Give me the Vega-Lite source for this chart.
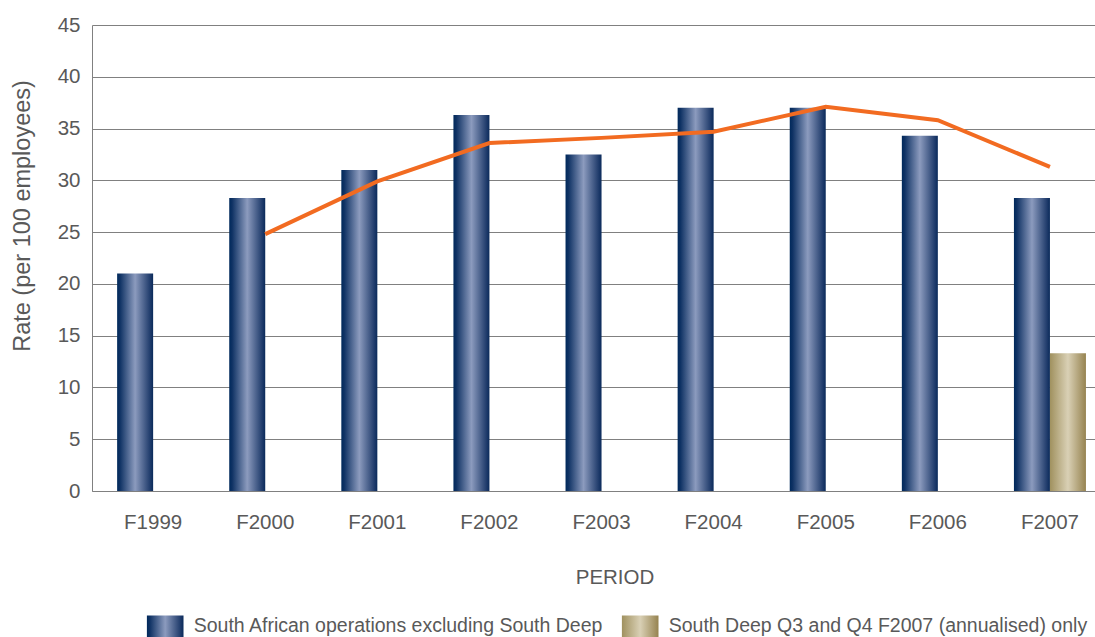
{
  "$schema": "https://vega.github.io/schema/vega-lite/v6.json",
  "width": 1003,
  "height": 466,
  "autosize": "none",
  "padding": {"left": 92, "top": 25, "right": 0, "bottom": 146},
  "background": "white",
  "config": {"view": {"stroke": null}, "font": "Liberation Sans"},
  "datasets": {
    "bars": [
      {"period": "F1999", "series": "South African operations excluding South Deep", "rate": 21.0},
      {"period": "F2000", "series": "South African operations excluding South Deep", "rate": 28.3},
      {"period": "F2001", "series": "South African operations excluding South Deep", "rate": 31.0},
      {"period": "F2002", "series": "South African operations excluding South Deep", "rate": 36.3},
      {"period": "F2003", "series": "South African operations excluding South Deep", "rate": 32.5},
      {"period": "F2004", "series": "South African operations excluding South Deep", "rate": 37.0},
      {"period": "F2005", "series": "South African operations excluding South Deep", "rate": 37.0},
      {"period": "F2006", "series": "South African operations excluding South Deep", "rate": 34.3},
      {"period": "F2007", "series": "South African operations excluding South Deep", "rate": 28.3},
      {"period": "F2007", "series": "South Deep Q3 and Q4 F2007 (annualised) only", "rate": 13.3}
    ],
    "trend": [
      {"period": "F2000", "rate": 24.8},
      {"period": "F2001", "rate": 29.9},
      {"period": "F2002", "rate": 33.6},
      {"period": "F2003", "rate": 34.1},
      {"period": "F2004", "rate": 34.7},
      {"period": "F2005", "rate": 37.1},
      {"period": "F2006", "rate": 35.8},
      {"period": "F2007", "rate": 31.3}
    ]
  },
  "encoding": {
    "x": {
      "field": "period",
      "type": "nominal",
      "scale": {
        "domain": ["F1999", "F2000", "F2001", "F2002", "F2003", "F2004", "F2005", "F2006", "F2007"],
        "paddingInner": 0.3577,
        "paddingOuter": 0.1525,
        "align": 0.735
      },
      "axis": {
        "title": "PERIOD",
        "labelAngle": 0,
        "ticks": false,
        "tickSize": 0,
        "grid": false,
        "domainColor": "#808080",
        "domainWidth": 1,
        "labelFontSize": 20.5,
        "labelColor": "#595959",
        "labelPadding": 21,
        "labelBaseline": "top",
        "labelDx": -6,
        "titleFontSize": 20.5,
        "titleFontWeight": "normal",
        "titleColor": "#595959",
        "titleX": 522.5,
        "titleY": 86.5,
        "titleBaseline": "middle",
        "titleAlign": "center"
      }
    },
    "y": {
      "field": "rate",
      "type": "quantitative",
      "scale": {"domain": [0, 45], "nice": false},
      "axis": {
        "title": "Rate (per 100 employees)",
        "values": [0, 5, 10, 15, 20, 25, 30, 35, 40, 45],
        "ticks": false,
        "tickSize": 0,
        "grid": true,
        "gridColor": "#808080",
        "gridWidth": 1,
        "domainColor": "#808080",
        "labelFontSize": 20.5,
        "labelColor": "#595959",
        "labelPadding": 12,
        "titleFontSize": 23.5,
        "titleFontWeight": "normal",
        "titleColor": "#595959",
        "titleX": -69.5,
        "titleY": 190.5,
        "titleAngle": 270,
        "titleBaseline": "middle",
        "titleAlign": "center"
      }
    }
  },
  "layer": [
    {
      "data": {"name": "bars"},
      "mark": {"type": "bar", "strokeWidth": 0},
      "encoding": {
        "xOffset": {
          "field": "series",
          "type": "nominal",
          "scale": {
            "domain": ["South African operations excluding South Deep", "South Deep Q3 and Q4 F2007 (annualised) only"],
            "paddingInner": 0,
            "paddingOuter": 0
          }
        },
        "color": {
          "field": "series",
          "type": "nominal",
          "scale": {
            "domain": ["South African operations excluding South Deep", "South Deep Q3 and Q4 F2007 (annualised) only"],
            "range": [
              {"expr": "{gradient: 'linear', x1: 0, y1: 0, x2: 1, y2: 0, stops: [{offset: 0, color: '#00295b'}, {offset: 0.08, color: '#0f3264'}, {offset: 0.5, color: '#8c9bbe'}, {offset: 0.92, color: '#1f3b6b'}, {offset: 1, color: '#0a2a5a'}]}"},
              {"expr": "{gradient: 'linear', x1: 0, y1: 0, x2: 1, y2: 0, stops: [{offset: 0, color: '#a0915f'}, {offset: 0.5, color: '#d9d0b5'}, {offset: 1, color: '#968350'}]}"}
            ]
          },
          "legend": {
            "title": null,
            "orient": "none",
            "legendX": 54.7,
            "legendY": 582.7,
            "direction": "horizontal",
            "symbolType": "M-1,-0.6L1,-0.6L1,0.6L-1,0.6Z",
            "symbolSize": 1340,
            "symbolStrokeWidth": 0,
            "symbolOpacity": 1,
            "labelFontSize": 19.5,
            "labelColor": "#595959",
            "labelOffset": 10,
            "labelLimit": 0,
            "columnPadding": 18,
            "padding": 0
          }
        }
      }
    },
    {
      "data": {"name": "trend"},
      "mark": {"type": "line", "color": "#f26b21", "strokeWidth": 4},
      "encoding": {}
    }
  ]
}
